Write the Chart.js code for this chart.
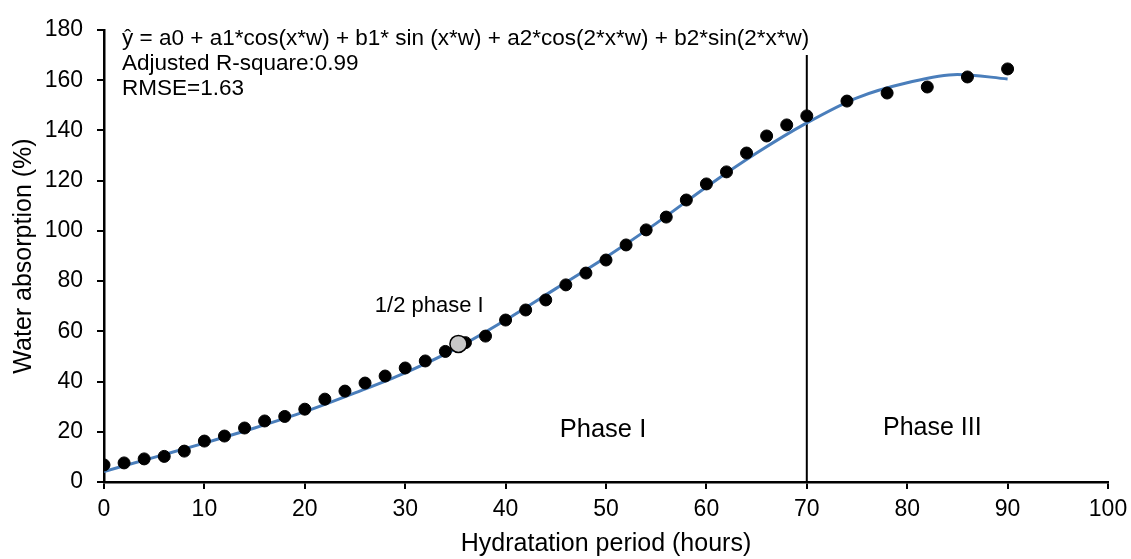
<!DOCTYPE html>
<html>
<head>
<meta charset="utf-8">
<script src="https://cdn.jsdelivr.net/npm/chart.js@4"></script>
<style>
    body { margin: 0; background: #fff; }
    #wrap { width: 1131px; height: 559px; }
</style>
</head>
<body>
<div id="wrap"><canvas id="absorptionChart"></canvas></div>
<script>
// measured water absorption (%) per hydration hour
const measuredHours = [0, 2, 4, 6, 8, 10, 12, 14, 16, 18, 20, 22, 24, 26, 28, 30, 32, 34, 36, 38,
    40, 42, 44, 46, 48, 50, 52, 54, 56, 58, 60, 62, 64, 66, 68, 70, 74, 78, 82, 86, 90];
const measuredAbsorption = [6.8, 7.6, 9.2, 10.2, 12.3, 16.3, 18.3, 21.5, 24.3, 26.1, 29, 33, 36.2, 39.4, 42.2, 45.4, 48.2, 52, 55.5, 58.1,
    64.5, 68.5, 72.5, 78.5, 83.2, 88.4, 94.4, 100.4, 105.5, 112.3, 118.7, 123.5, 131, 137.8, 142.2, 145.8, 151.7, 154.9, 157.3, 161.3, 164.5];

// fitted Fourier curve
const fitHours = [0, 5, 10, 15, 20, 25, 30, 35, 40, 45, 50, 55, 60, 65, 70, 75, 80, 85, 90];
const fitAbsorption = [4.2, 9.8, 15.5, 21.5, 28, 35.5, 43.5, 53, 64.5, 77, 89.5, 103, 117.5, 131, 143, 153, 159, 162.3, 160.5];

const halfPhaseHour = [35.3];
const halfPhaseAbsorption = [55];

const phaseBoundaryHour = 70;
const phaseBoundaryTop = 170;

const xTicks = [0, 10, 20, 30, 40, 50, 60, 70, 80, 90, 100];
const yTicks = [0, 20, 40, 60, 80, 100, 120, 140, 160, 180];

const fontFamily = "'Liberation Sans', Arial, sans-serif";

function toPoints(xs, ys) {
    return xs.map((x, i) => ({ x: x, y: ys[i] }));
}

// text drawn at data coordinates
const notes = [
    { text: "\u0177 = a0 + a1*cos(x*w) + b1* sin (x*w) + a2*cos(2*x*w) + b2*sin(2*x*w)", x: 1.8, y: 176.5, size: 22.5, align: "left" },
    { text: "Adjusted R-square:0.99", x: 1.8, y: 166.5, size: 22.5, align: "left" },
    { text: "RMSE=1.63", x: 1.8, y: 156.5, size: 22.5, align: "left" },
    { text: "1/2 phase I", x: 32.4, y: 70.2, size: 22, align: "center" },
    { text: "Phase I", x: 49.7, y: 20.6, size: 25.5, align: "center" },
    { text: "Phase III", x: 82.5, y: 21.4, size: 25, align: "center" }
];

const notesPlugin = {
    id: "notes",
    afterDatasetsDraw(chart) {
        const c = chart.ctx;
        const xs = chart.scales.x;
        const ys = chart.scales.y;
        c.save();
        c.fillStyle = "#000";
        c.textBaseline = "middle";
        notes.forEach(n => {
            c.font = n.size + "px " + fontFamily;
            c.textAlign = n.align;
            c.fillText(n.text, xs.getPixelForValue(n.x), ys.getPixelForValue(n.y));
        });
        c.restore();
    }
};

new Chart(document.getElementById("absorptionChart"), {
    type: "scatter",
    data: {
        datasets: [
            {
                data: toPoints(halfPhaseHour, halfPhaseAbsorption),
                backgroundColor: "#c8c8c8",
                borderColor: "#000",
                borderWidth: 1.5,
                pointRadius: 8.5,
                order: 0
            },
            {
                data: toPoints(measuredHours, measuredAbsorption),
                backgroundColor: "#000",
                borderColor: "#000",
                pointRadius: 6,
                order: 1
            },
            {
                type: "line",
                data: toPoints(fitHours, fitAbsorption),
                borderColor: "#4a7ebb",
                borderWidth: 3,
                pointRadius: 0,
                tension: 0.4,
                cubicInterpolationMode: "monotone",
                fill: false,
                order: 2
            },
            {
                type: "line",
                data: [{ x: phaseBoundaryHour, y: 0 }, { x: phaseBoundaryHour, y: phaseBoundaryTop }],
                borderColor: "#000",
                borderWidth: 2,
                pointRadius: 0,
                fill: false,
                order: 3
            }
        ]
    },
    options: {
        responsive: true,
        maintainAspectRatio: false,
        animation: false,
        layout: { padding: { top: 30, right: 23, left: 0, bottom: 0 } },
        plugins: {
            legend: { display: false },
            tooltip: { enabled: false }
        },
        scales: {
            x: {
                type: "linear",
                min: 0,
                max: 100,
                afterBuildTicks: scale => { scale.ticks = xTicks.map(v => ({ value: v })); },
                afterFit: scale => {
                    scale.height = 77;
                    scale.paddingLeft = 0;
                    scale.paddingRight = 0;
                },
                ticks: { color: "#000", padding: 7, font: { family: fontFamily, size: 23 } },
                grid: { display: true, drawOnChartArea: false, drawTicks: true, tickLength: 7, color: "#000", lineWidth: 2 },
                border: { display: true, color: "#000", width: 2.5 },
                title: { display: true, text: "Hydratation period (hours)", color: "#000", padding: { top: 0, bottom: 0 }, font: { family: fontFamily, size: 25 } }
            },
            y: {
                type: "linear",
                min: 0,
                max: 180,
                afterBuildTicks: scale => { scale.ticks = yTicks.map(v => ({ value: v })); },
                afterFit: scale => {
                    scale.width = 104;
                    scale.paddingTop = 0;
                    scale.paddingBottom = 0;
                },
                ticks: { color: "#000", padding: 14, font: { family: fontFamily, size: 23 } },
                grid: { display: true, drawOnChartArea: false, drawTicks: true, tickLength: 7, color: "#000", lineWidth: 2 },
                border: { display: true, color: "#000", width: 2.5 },
                title: { display: true, text: "Water absorption (%)", color: "#000", padding: { top: 9, bottom: 0 }, font: { family: fontFamily, size: 25 } }
            }
        }
    },
    plugins: [notesPlugin]
});
</script>
</body>
</html>
